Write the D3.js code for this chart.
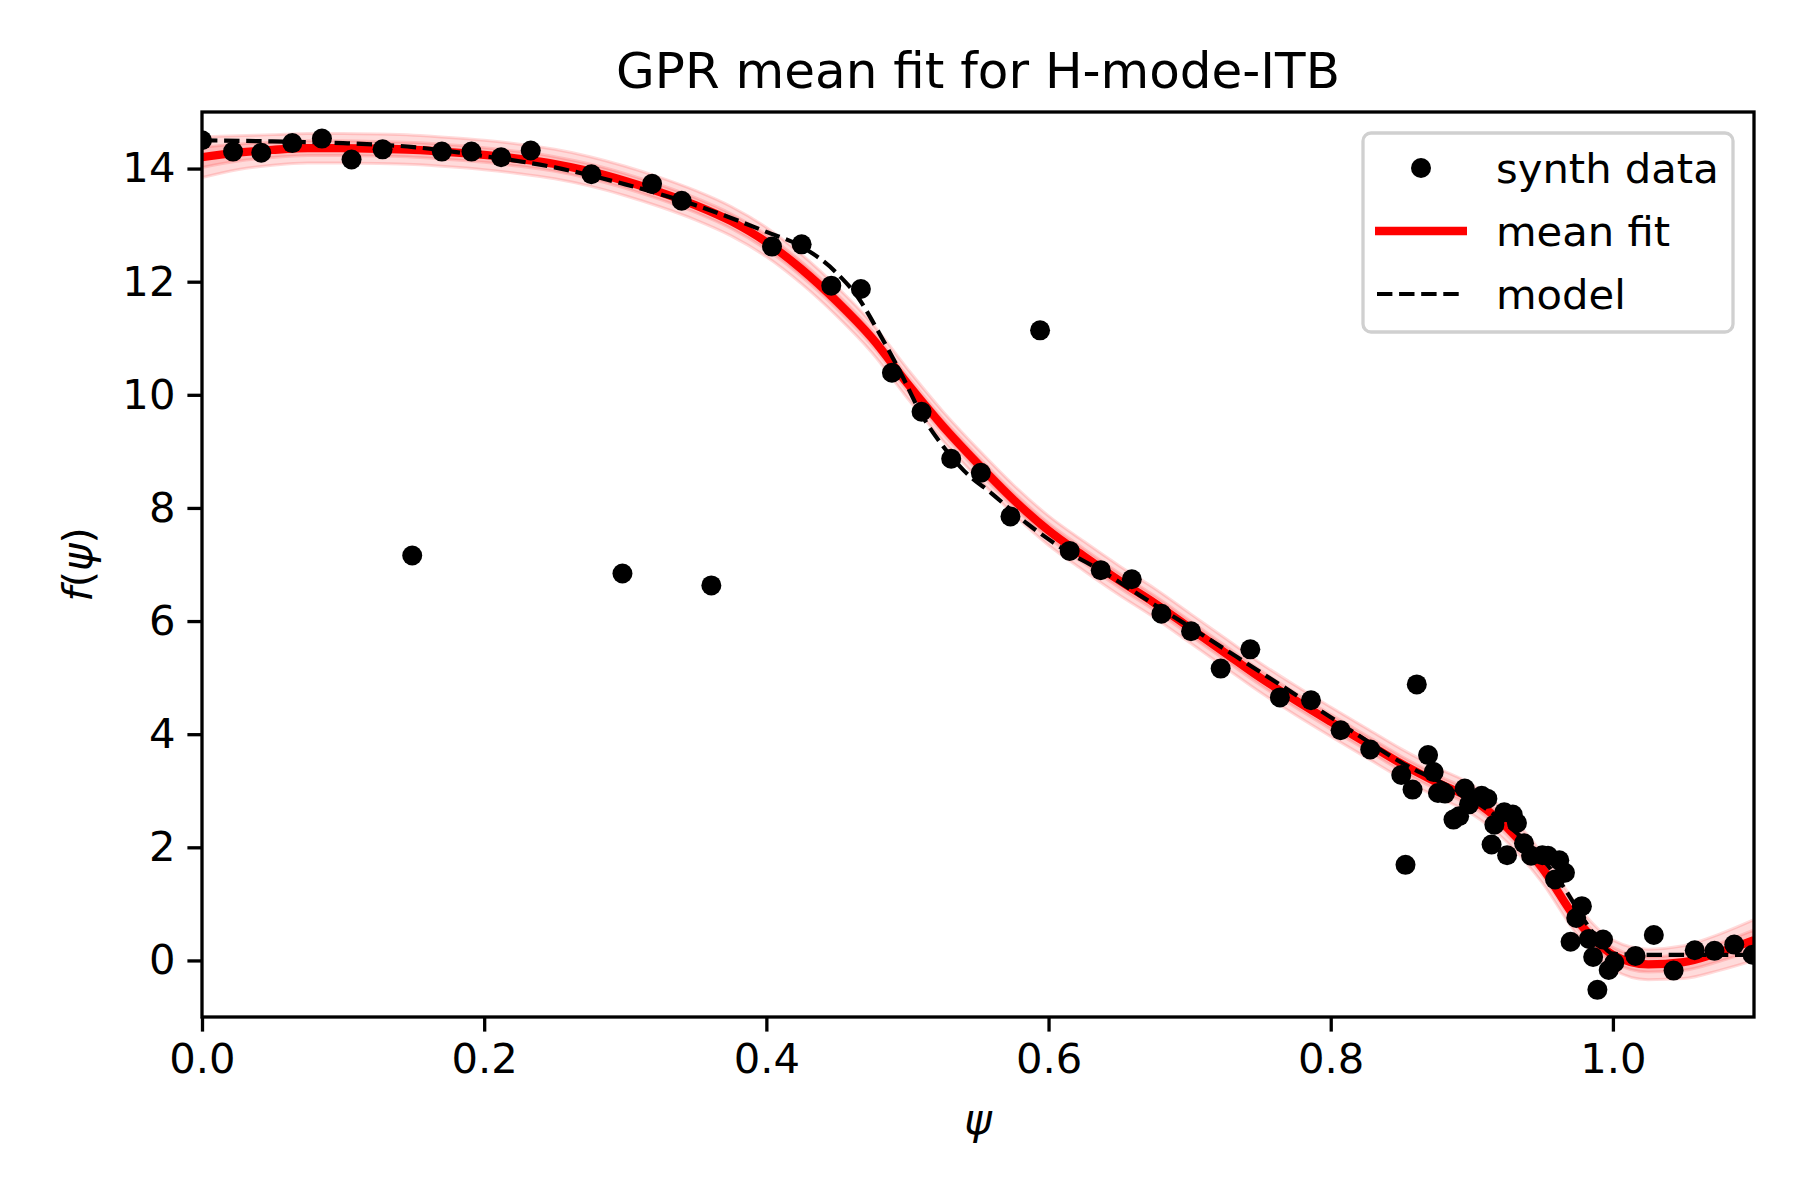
<html>
<head>
<script src="https://d3js.org/d3.v7.min.js"></script>
<style>
  body { margin: 0; background: #fff; }
  text { font-family: "DejaVu Sans", sans-serif; fill: #000; }
</style>
</head>
<body>
<svg id="chart" width="1800" height="1200"></svg>
<script>
// synthetic data points (psi, f)
var synthPsi = [0.000,0.022,0.042,0.064,0.085,0.106,0.128,0.149,0.170,0.191,0.212,0.233,0.276,0.298,0.319,0.340,0.361,
  0.404,0.425,0.446,0.467,0.489,0.510,0.531,0.552,0.573,0.594,0.615,0.637,0.659,0.680,0.701,0.722,0.743,0.764,0.786,
  0.807,0.828,0.850,0.853,0.858,0.861,0.869,0.873,0.876,0.881,0.887,0.891,0.895,0.898,0.907,0.911,0.914,0.916,0.923,
  0.925,0.929,0.932,0.937,0.942,0.950,0.954,0.959,0.962,0.966,0.970,0.974,0.978,0.983,0.986,0.989,0.993,0.997,1.001,
  1.016,1.029,1.043,1.058,1.072,1.086,1.099];
var synthF = [14.50,14.30,14.28,14.45,14.53,14.16,14.34,7.16,14.30,14.30,14.20,14.32,13.90,6.84,13.73,13.43,6.63,
  12.62,12.66,11.93,11.87,10.39,9.70,8.87,8.62,7.85,11.14,7.24,6.90,6.74,6.13,5.82,5.16,5.50,4.65,4.60,
  4.07,3.73,3.28,1.69,3.02,4.88,3.63,3.33,2.96,2.95,2.49,2.55,3.04,2.76,2.91,2.86,2.05,2.40,2.62,
  1.86,2.58,2.43,2.07,1.85,1.86,1.85,1.43,1.77,1.55,0.33,0.75,0.96,0.38,0.06,-0.52,0.37,-0.17,-0.04,
  0.08,0.45,-0.18,0.18,0.17,0.28,0.10];

// GPR mean fit and its 1-sigma uncertainty
var fitPsi = [0,0.025,0.05,0.075,0.1,0.125,0.15,0.175,0.2,0.225,0.25,0.275,0.3,0.325,0.35,0.375,0.4,0.425,0.45,0.475,
  0.5,0.525,0.55,0.575,0.6,0.625,0.65,0.675,0.7,0.725,0.75,0.775,0.8,0.825,0.85,0.875,0.9,0.925,0.95,0.975,
  1.0,1.025,1.05,1.075,1.1];
var fitMean = [14.2,14.28,14.33,14.36,14.36,14.35,14.33,14.29,14.24,14.17,14.08,13.95,13.78,13.58,13.35,13.07,12.70,12.22,11.65,11.0,
  10.2,9.45,8.78,8.15,7.6,7.15,6.72,6.32,5.88,5.44,5.0,4.6,4.22,3.85,3.48,3.15,2.85,2.35,1.63,0.7,
  0.1,-0.07,-0.03,0.14,0.36];
var fitSigma = [0.18,0.15,0.135,0.13,0.13,0.13,0.13,0.13,0.13,0.13,0.13,0.13,0.13,0.13,0.13,0.13,0.13,0.13,0.13,0.13,
  0.13,0.13,0.13,0.13,0.13,0.13,0.13,0.13,0.13,0.13,0.13,0.13,0.13,0.13,0.13,0.13,0.13,0.13,0.13,0.13,
  0.13,0.135,0.145,0.16,0.18];

// model curve
var modelPsi = [0,0.05,0.1,0.15,0.2,0.25,0.3,0.35,0.4,0.425,0.45,0.465,0.48,0.495,0.51,0.525,0.54,0.56,0.585,0.61,
  0.64,0.665,0.7,0.75,0.8,0.85,0.9,0.925,0.95,0.965,0.98,0.99,1.0,1.02,1.1];
var modelF = [14.5,14.48,14.45,14.38,14.22,14.02,13.72,13.35,12.88,12.62,12.15,11.72,11.09,10.4,9.65,9.1,8.66,8.25,7.72,7.28,
  6.85,6.45,5.9,5.1,4.3,3.5,2.85,2.4,1.8,1.3,0.7,0.35,0.12,0.1,0.1];

var xTicks = [0, 0.2, 0.4, 0.6, 0.8, 1.0];
var yTicks = [0, 2, 4, 6, 8, 10, 12, 14];

var pLeft = 202, pRight = 1754, pTop = 112, pBottom = 1017;
var svg = d3.select("#chart");

var x = d3.scaleLinear().domain([0, 1.1]).range([pLeft, pRight]);
var y = d3.scaleLinear().domain([-1, 15]).range([pBottom, pTop]);

svg.append("clipPath").attr("id", "clip")
  .append("rect").attr("x", pLeft).attr("y", pTop).attr("width", pRight - pLeft).attr("height", pBottom - pTop);

var plot = svg.append("g").attr("clip-path", "url(#clip)");

var fit = fitPsi.map(function(p, i) { return {p: p, m: fitMean[i], s: fitSigma[i]}; });

// 2-sigma and 1-sigma bands
[2, 1].forEach(function(k) {
  var band = d3.area()
    .x(function(d) { return x(d.p); })
    .y0(function(d) { return y(d.m - k * d.s); })
    .y1(function(d) { return y(d.m + k * d.s); })
    .curve(d3.curveMonotoneX);
  plot.append("path").datum(fit)
    .attr("d", band)
    .attr("fill", "red").attr("fill-opacity", 0.14)
    .attr("stroke", "red").attr("stroke-opacity", 0.14).attr("stroke-width", 3);
});

plot.append("path").datum(fit)
  .attr("d", d3.line().x(function(d) { return x(d.p); }).y(function(d) { return y(d.m); }).curve(d3.curveMonotoneX))
  .attr("fill", "none").attr("stroke", "red").attr("stroke-width", 8.3);

plot.selectAll("circle.dot")
  .data(synthPsi)
  .enter().append("circle")
  .attr("class", "dot")
  .attr("cx", function(d) { return x(d); })
  .attr("cy", function(d, i) { return y(synthF[i]); })
  .attr("r", 10)
  .attr("fill", "black");

plot.append("path").datum(modelPsi)
  .attr("d", d3.line().x(function(d) { return x(d); }).y(function(d, i) { return y(modelF[i]); }).curve(d3.curveMonotoneX))
  .attr("fill", "none").attr("stroke", "black").attr("stroke-width", 4.2)
  .attr("stroke-dasharray", "15.4 6.7");

// axes
var gx = svg.append("g").attr("transform", "translate(0," + pBottom + ")")
  .call(d3.axisBottom(x).tickValues(xTicks).tickFormat(d3.format(".1f")).tickSize(14.6).tickPadding(12));
var gy = svg.append("g").attr("transform", "translate(" + pLeft + ",0)")
  .call(d3.axisLeft(y).tickValues(yTicks).tickFormat(d3.format("d")).tickSize(14.6).tickPadding(12));
[gx, gy].forEach(function(g) {
  g.select(".domain").remove();
  g.selectAll(".tick line").attr("stroke", "black").attr("stroke-width", 3.3);
  g.selectAll(".tick text").attr("font-size", "41.7px").attr("font-family", "DejaVu Sans").attr("fill", "black");
});

svg.append("rect")
  .attr("x", pLeft).attr("y", pTop).attr("width", pRight - pLeft).attr("height", pBottom - pTop)
  .attr("fill", "none").attr("stroke", "black").attr("stroke-width", 3.3);

// labels
svg.append("text").attr("x", (pLeft + pRight) / 2).attr("y", 88)
  .attr("text-anchor", "middle").attr("font-size", "50px")
  .text("GPR mean fit for H-mode-ITB");

svg.append("text").attr("x", (pLeft + pRight) / 2).attr("y", 1134)
  .attr("text-anchor", "middle").attr("font-size", "41.7px").attr("font-style", "italic")
  .text("ψ");

var yl = svg.append("text")
  .attr("transform", "translate(92," + ((pTop + pBottom) / 2) + ") rotate(-90)")
  .attr("text-anchor", "middle").attr("font-size", "41.7px");
yl.append("tspan").attr("font-style", "italic").text("f");
yl.append("tspan").text("(");
yl.append("tspan").attr("font-style", "italic").text("ψ");
yl.append("tspan").text(")");

// legend
var lg = svg.append("g");
lg.append("rect").attr("x", 1363).attr("y", 133).attr("width", 370).attr("height", 199)
  .attr("rx", 8).attr("fill", "white").attr("fill-opacity", 0.8)
  .attr("stroke", "#d0d0d0").attr("stroke-width", 3.3);
var rows = [
  {label: "synth data", y: 168, type: "dot"},
  {label: "mean fit", y: 231, type: "fit"},
  {label: "model", y: 294, type: "model"}
];
rows.forEach(function(r) {
  if (r.type === "dot") {
    lg.append("circle").attr("cx", 1421).attr("cy", r.y).attr("r", 10).attr("fill", "black");
  } else if (r.type === "fit") {
    lg.append("line").attr("x1", 1375).attr("x2", 1467).attr("y1", r.y).attr("y2", r.y)
      .attr("stroke", "red").attr("stroke-width", 8.3);
  } else {
    lg.append("line").attr("x1", 1377).attr("x2", 1465).attr("y1", r.y).attr("y2", r.y)
      .attr("stroke", "black").attr("stroke-width", 4.2).attr("stroke-dasharray", "15.4 6.7");
  }
  lg.append("text").attr("x", 1496).attr("y", r.y).attr("dy", "0.35em")
    .attr("font-size", "41.7px").text(r.label);
});
</script>
</body>
</html>
